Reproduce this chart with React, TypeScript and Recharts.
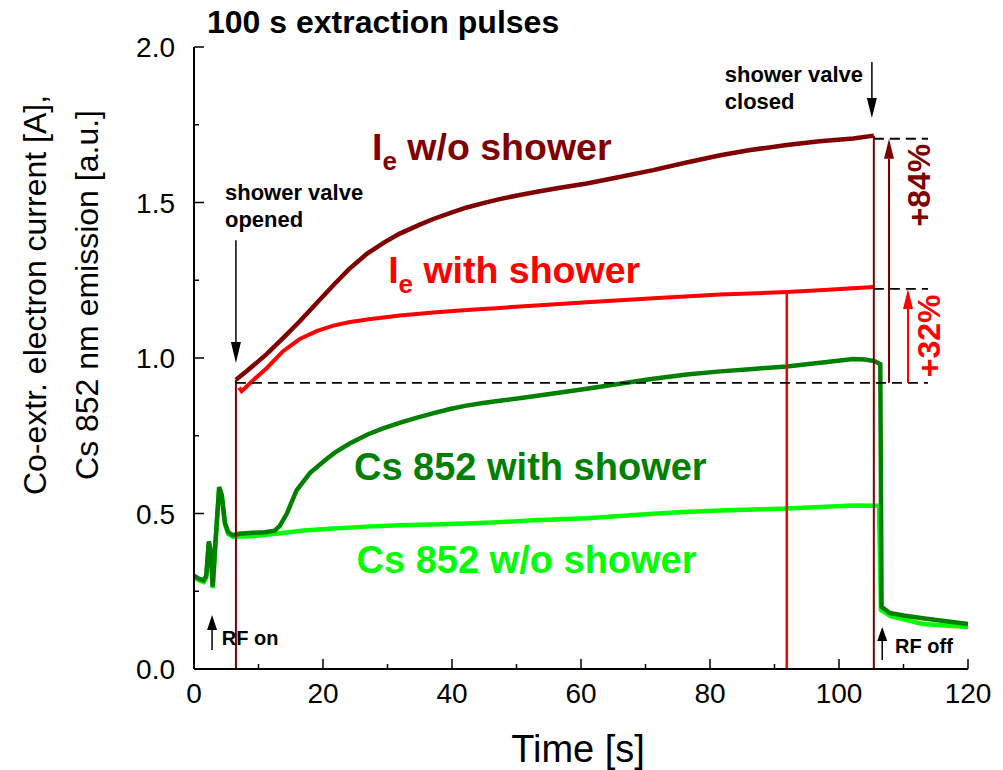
import React from "react";
import { LineChart, Line, XAxis, YAxis, ReferenceLine, ReferenceDot } from "recharts";

type Pt = { t: number; v: number };

const FONT = '"Liberation Sans", Arial, Helvetica, sans-serif';

// time axis (s) and value axis ticks
const xTicks = [0, 10, 20, 30, 40, 50, 60, 70, 80, 90, 100, 110, 120];
const yTicks = [0, 0.25, 0.5, 0.75, 1, 1.25, 1.5, 1.75, 2];

// co-extracted electron current without shower (A)
const ieWithoutShower: Pt[] = [
  { t: 6.5, v: 0.93 }, { t: 8, v: 0.955 }, { t: 10, v: 0.99 },
  { t: 11.3, v: 1.013 }, { t: 14, v: 1.068 }, { t: 16.4, v: 1.118 }, { t: 19, v: 1.176 },
  { t: 21.6, v: 1.234 }, { t: 24, v: 1.285 }, { t: 26.8, v: 1.335 }, { t: 29.5, v: 1.372 },
  { t: 31.9, v: 1.4 }, { t: 35, v: 1.429 }, { t: 37.1, v: 1.447 }, { t: 40, v: 1.468 },
  { t: 42.3, v: 1.484 }, { t: 45, v: 1.499 }, { t: 47.4, v: 1.511 }, { t: 50.5, v: 1.524 },
  { t: 53.6, v: 1.536 }, { t: 57, v: 1.548 }, { t: 60.9, v: 1.561 }, { t: 65, v: 1.578 },
  { t: 71.2, v: 1.604 }, { t: 76, v: 1.627 }, { t: 81.6, v: 1.652 }, { t: 86, v: 1.668 },
  { t: 91.9, v: 1.685 }, { t: 97, v: 1.697 }, { t: 102.2, v: 1.706 }, { t: 105.4, v: 1.715 },
];

// co-extracted electron current with shower (A)
const ieWithShower: Pt[] = [
  { t: 7.0, v: 0.905 }, { t: 7.4, v: 0.893 }, { t: 9, v: 0.925 }, { t: 11.3, v: 0.968 },
  { t: 13.8, v: 1.022 }, { t: 16.4, v: 1.061 }, { t: 19.1, v: 1.087 }, { t: 21.6, v: 1.104 },
  { t: 24, v: 1.115 }, { t: 26.8, v: 1.124 }, { t: 31.9, v: 1.137 }, { t: 37.1, v: 1.146 },
  { t: 42.3, v: 1.154 }, { t: 47.4, v: 1.161 }, { t: 53.6, v: 1.17 }, { t: 60.9, v: 1.179 },
  { t: 71.2, v: 1.192 }, { t: 81.6, v: 1.204 }, { t: 91.9, v: 1.212 }, { t: 97, v: 1.218 },
  { t: 102.2, v: 1.224 }, { t: 105.4, v: 1.228 },
];
const ieWithShowerCut = { t: 91.9, v: 1.212 };

// Cs 852 nm emission with shower (a.u.)
const csWithShower: Pt[] = [
  { t: 0, v: 0.3 }, { t: 0.8, v: 0.29 }, { t: 1.5, v: 0.285 }, { t: 1.9, v: 0.3 },
  { t: 2.3, v: 0.41 }, { t: 2.6, v: 0.38 }, { t: 2.9, v: 0.265 }, { t: 3.3, v: 0.4 },
  { t: 3.9, v: 0.585 }, { t: 4.3, v: 0.56 }, { t: 4.8, v: 0.47 }, { t: 5.3, v: 0.44 },
  { t: 6, v: 0.43 }, { t: 7, v: 0.435 }, { t: 9, v: 0.438 }, { t: 11, v: 0.44 },
  { t: 12.5, v: 0.445 }, { t: 13.3, v: 0.46 }, { t: 14.4, v: 0.5 }, { t: 15.9, v: 0.574 },
  { t: 18, v: 0.631 }, { t: 20.6, v: 0.676 }, { t: 22, v: 0.698 }, { t: 24.2, v: 0.726 },
  { t: 27, v: 0.755 }, { t: 29.3, v: 0.774 }, { t: 32, v: 0.792 }, { t: 34.6, v: 0.808 },
  { t: 37, v: 0.822 }, { t: 39.7, v: 0.836 }, { t: 42, v: 0.846 }, { t: 44.8, v: 0.855 },
  { t: 48, v: 0.864 }, { t: 51, v: 0.872 }, { t: 55.7, v: 0.886 }, { t: 60.9, v: 0.901 },
  { t: 66, v: 0.917 }, { t: 71.2, v: 0.933 }, { t: 76.4, v: 0.947 }, { t: 81.6, v: 0.957 },
  { t: 86.7, v: 0.965 }, { t: 91.9, v: 0.973 }, { t: 97.1, v: 0.985 }, { t: 102.2, v: 0.997 },
  { t: 104, v: 0.995 }, { t: 105.5, v: 0.99 }, { t: 106.4, v: 0.98 }, { t: 106.6, v: 0.2 },
  { t: 107.9, v: 0.18 }, { t: 110, v: 0.172 }, { t: 113, v: 0.163 }, { t: 116, v: 0.155 },
  { t: 120, v: 0.145 },
];

// Cs 852 nm emission without shower (a.u.)
const csWithoutShower: Pt[] = [
  { t: 0, v: 0.295 }, { t: 0.8, v: 0.285 }, { t: 1.5, v: 0.28 }, { t: 1.9, v: 0.295 },
  { t: 2.3, v: 0.405 }, { t: 2.6, v: 0.375 }, { t: 2.9, v: 0.26 }, { t: 3.3, v: 0.395 },
  { t: 3.9, v: 0.58 }, { t: 4.3, v: 0.555 }, { t: 4.8, v: 0.465 }, { t: 5.3, v: 0.435 },
  { t: 6, v: 0.425 }, { t: 9, v: 0.427 }, { t: 13, v: 0.436 }, { t: 17, v: 0.445 },
  { t: 21.6, v: 0.452 }, { t: 26, v: 0.457 }, { t: 31.9, v: 0.462 }, { t: 37, v: 0.465 },
  { t: 42.3, v: 0.468 }, { t: 47, v: 0.472 }, { t: 52.6, v: 0.478 }, { t: 60.9, v: 0.485 },
  { t: 66, v: 0.492 }, { t: 71.2, v: 0.499 }, { t: 76, v: 0.505 }, { t: 81.6, v: 0.51 },
  { t: 86.7, v: 0.513 }, { t: 91.9, v: 0.516 }, { t: 97, v: 0.521 }, { t: 102.2, v: 0.526 },
  { t: 106.2, v: 0.525 }, { t: 106.5, v: 0.19 }, { t: 108, v: 0.17 }, { t: 113, v: 0.145 },
  { t: 120, v: 0.135 },
];

// reference level at shower opening and the two end levels
const startLevel = 0.92;
const endLevelWithout = 1.705;
const endLevelWith = 1.222;
const dashEnd = 113.8;

const ieFirst = ieWithoutShower[0];
const ieLast = ieWithoutShower[ieWithoutShower.length - 1];

const DARK_RED = "#800000";
const RED = "#ff0000";
const DARK_GREEN = "#008000";
const LIGHT_GREEN = "#00ff00";

function BottomTick(props: any) {
  const { x, y, payload } = props;
  const major = payload.value % 20 === 0;
  return (
    <g>
      <line x1={x} y1={y} x2={x} y2={y - (major ? 10 : 5)} stroke="#000" strokeWidth={1.5} />
      {major && (
        <text x={x} y={y + 34} textAnchor="middle" fontSize={28} fontFamily={FONT} fill="#000">
          {payload.value}
        </text>
      )}
    </g>
  );
}

function TopTick(props: any) {
  const { x, y, payload } = props;
  const major = payload.value % 20 === 0;
  return <line x1={x} y1={y} x2={x} y2={y + (major ? 10 : 5)} stroke="#000" strokeWidth={1.5} />;
}

function LeftTick(props: any) {
  const { x, y, payload } = props;
  const major = Math.abs(payload.value * 2 - Math.round(payload.value * 2)) < 1e-6;
  return (
    <g>
      <line x1={x} y1={y} x2={x + (major ? 10 : 5)} y2={y} stroke="#000" strokeWidth={1.5} />
      {major && (
        <text x={x - 19} y={y + 10} textAnchor="end" fontSize={28} fontFamily={FONT} fill="#000">
          {payload.value.toFixed(1)}
        </text>
      )}
    </g>
  );
}

function RightTick(props: any) {
  const { x, y, payload } = props;
  const major = Math.abs(payload.value * 2 - Math.round(payload.value * 2)) < 1e-6;
  return <line x1={x} y1={y} x2={x - (major ? 10 : 5)} y2={y} stroke="#000" strokeWidth={1.5} />;
}

// line with a filled arrow head at its second point
const arrow = (color: string, headLen: number, width = 1.5) => (p: any) => {
  const { x1, y1, x2, y2 } = p;
  const dx = x2 - x1;
  const dy = y2 - y1;
  const len = Math.sqrt(dx * dx + dy * dy) || 1;
  const ux = dx / len;
  const uy = dy / len;
  const bx = x2 - ux * headLen;
  const by = y2 - uy * headLen;
  const hw = 5;
  return (
    <g>
      <line x1={x1} y1={y1} x2={bx} y2={by} stroke={color} strokeWidth={width} />
      <polygon
        points={`${x2},${y2} ${bx - uy * hw},${by + ux * hw} ${bx + uy * hw},${by - ux * hw}`}
        fill={color}
      />
    </g>
  );
};

const textAt =
  (lines: string[], color: string, size: number, lineGap = 27) =>
  (p: any) => (
    <text x={p.cx} y={p.cy} fontSize={size} fontWeight="bold" fontFamily={FONT} fill={color}>
      {lines.map((s, i) => (
        <tspan key={i} x={p.cx} dy={i === 0 ? 0 : lineGap}>
          {s}
        </tspan>
      ))}
    </text>
  );

const ieLabel = (rest: string, color: string) => (p: any) => (
  <text x={p.cx} y={p.cy} fontSize={37.5} fontWeight="bold" fontFamily={FONT} fill={color}>
    <tspan>I</tspan>
    <tspan dy={10} fontSize={26}>e</tspan>
    <tspan dy={-10}>{rest}</tspan>
  </text>
);

const rotatedLabel = (label: string, color: string) => (p: any) => (
  <text
    x={p.cx}
    y={p.cy}
    transform={`rotate(-90 ${p.cx} ${p.cy})`}
    textAnchor="middle"
    dominantBaseline="central"
    fontSize={32}
    fontWeight="bold"
    fontFamily={FONT}
    fill={color}
  >
    {label}
  </text>
);

export default function App() {
  return (
    <div style={{ position: "relative", width: 995, height: 762 }}>
      <LineChart width={995} height={762} margin={{ top: 39, right: 35, left: 0, bottom: 0 }}>
        <XAxis
          dataKey="t"
          type="number"
          domain={[0, 120]}
          ticks={xTicks}
          interval={0}
          height={101}
          tickSize={0}
          tickMargin={0}
          tickLine={false}
          axisLine={{ stroke: "#000", strokeWidth: 2 }}
          tick={<BottomTick />}
          allowDataOverflow
        />
        <XAxis
          xAxisId="top"
          orientation="top"
          dataKey="t"
          type="number"
          domain={[0, 120]}
          ticks={xTicks}
          interval={0}
          height={0}
          tickSize={0}
          tickMargin={0}
          tickLine={false}
          axisLine={{ stroke: "#000", strokeWidth: 2 }}
          tick={<TopTick />}
          allowDataOverflow
        />
        <YAxis
          type="number"
          domain={[0, 2]}
          ticks={yTicks}
          interval={0}
          width={186}
          tickSize={0}
          tickMargin={0}
          tickLine={false}
          axisLine={{ stroke: "#000", strokeWidth: 2 }}
          tick={<LeftTick />}
          allowDataOverflow
        />
        <YAxis
          yAxisId="right"
          orientation="right"
          type="number"
          domain={[0, 2]}
          ticks={yTicks}
          interval={0}
          width={0}
          tickSize={0}
          tickMargin={0}
          tickLine={false}
          axisLine={{ stroke: "#000", strokeWidth: 2 }}
          tick={<RightTick />}
          allowDataOverflow
        />

        <Line data={csWithoutShower} dataKey="v" type="linear" stroke={LIGHT_GREEN} strokeWidth={4.5} dot={false} activeDot={false} isAnimationActive={false} />
        <Line data={csWithShower} dataKey="v" type="linear" stroke={DARK_GREEN} strokeWidth={4.5} dot={false} activeDot={false} isAnimationActive={false} />
        <Line data={ieWithShower} dataKey="v" type="linear" stroke={RED} strokeWidth={4} dot={false} activeDot={false} isAnimationActive={false} />
        <Line data={ieWithoutShower} dataKey="v" type="linear" stroke={DARK_RED} strokeWidth={4.5} dot={false} activeDot={false} isAnimationActive={false} />

        {/* switch-on / switch-off edges of the current traces */}
        <ReferenceLine segment={[{ x: ieFirst.t, y: 0 }, { x: ieFirst.t, y: ieFirst.v }]} stroke={DARK_RED} strokeWidth={2} />
        <ReferenceLine segment={[{ x: ieLast.t, y: 0 }, { x: ieLast.t, y: ieLast.v }]} stroke={DARK_RED} strokeWidth={2} />
        <ReferenceLine
          segment={[{ x: ieWithShowerCut.t, y: 0 }, { x: ieWithShowerCut.t, y: ieWithShowerCut.v }]}
          stroke={RED}
          strokeWidth={2.5}
        />

        {/* dashed reference levels */}
        <ReferenceLine segment={[{ x: ieFirst.t, y: startLevel }, { x: dashEnd, y: startLevel }]} stroke="#000" strokeWidth={1.8} strokeDasharray="10 6" />
        <ReferenceLine segment={[{ x: ieLast.t, y: endLevelWithout }, { x: dashEnd, y: endLevelWithout }]} stroke="#000" strokeWidth={1.8} strokeDasharray="10 6" />
        <ReferenceLine segment={[{ x: ieLast.t, y: endLevelWith }, { x: dashEnd, y: endLevelWith }]} stroke="#000" strokeWidth={1.8} strokeDasharray="10 6" />

        {/* increase arrows */}
        <ReferenceLine segment={[{ x: 107.75, y: startLevel }, { x: 107.75, y: endLevelWithout }]} shape={arrow(DARK_RED, 20, 2)} />
        <ReferenceLine segment={[{ x: 110.7, y: startLevel }, { x: 110.7, y: endLevelWith }]} shape={arrow(RED, 20, 2)} />

        {/* event arrows */}
        <ReferenceLine segment={[{ x: 6.5, y: 1.379 }, { x: 6.5, y: 0.984 }]} shape={arrow("#000", 21)} />
        <ReferenceLine segment={[{ x: 105.1, y: 1.952 }, { x: 105.1, y: 1.772 }]} shape={arrow("#000", 20)} />
        <ReferenceLine segment={[{ x: 2.8, y: 0.061 }, { x: 2.8, y: 0.174 }]} shape={arrow("#000", 15)} />
        <ReferenceLine segment={[{ x: 106.7, y: 0.029 }, { x: 106.7, y: 0.135 }]} shape={arrow("#000", 14)} />

        {/* annotations */}
        <ReferenceDot x={27.6} y={1.637} r={0} shape={ieLabel(" w/o shower", DARK_RED)} />
        <ReferenceDot x={30.1} y={1.241} r={0} shape={ieLabel(" with shower", RED)} />
        <ReferenceDot x={24.8} y={0.608} r={0} shape={textAt(["Cs 852 with shower"], DARK_GREEN, 38)} />
        <ReferenceDot x={25.2} y={0.309} r={0} shape={textAt(["Cs 852 w/o shower"], LIGHT_GREEN, 38)} />
        <ReferenceDot x={4.8} y={1.508} r={0} shape={textAt(["shower valve", "opened"], "#000", 22)} />
        <ReferenceDot x={82.3} y={1.887} r={0} shape={textAt(["shower valve", "closed"], "#000", 22)} />
        <ReferenceDot x={4.3} y={0.077} r={0} shape={textAt(["RF on"], "#000", 20)} />
        <ReferenceDot x={108.7} y={0.051} r={0} shape={textAt(["RF off"], "#000", 20)} />
        <ReferenceDot x={112.4} y={1.556} r={0} shape={rotatedLabel("+84%", DARK_RED)} />
        <ReferenceDot x={114.0} y={1.071} r={0} shape={rotatedLabel("+32%", RED)} />
      </LineChart>

      <svg
        width={1003}
        height={770}
        style={{ position: "absolute", left: -8, top: -8, pointerEvents: "none" }}
      >
        <text x={207} y={33} fontSize={32} fontWeight="bold" fontFamily={FONT} fill="#000">
          100 s extraction pulses
        </text>
        <text x={578} y={762} textAnchor="middle" fontSize={38} fontFamily={FONT} fill="#000">
          Time [s]
        </text>
        <g transform="rotate(-90)" fontSize={32} fontFamily={FONT} fill="#000" textAnchor="middle">
          <text x={-295} y={46}>Co-extr. electron current [A],</text>
          <text x={-295} y={98}>Cs 852 nm emission [a.u.]</text>
        </g>
      </svg>
    </div>
  );
}
